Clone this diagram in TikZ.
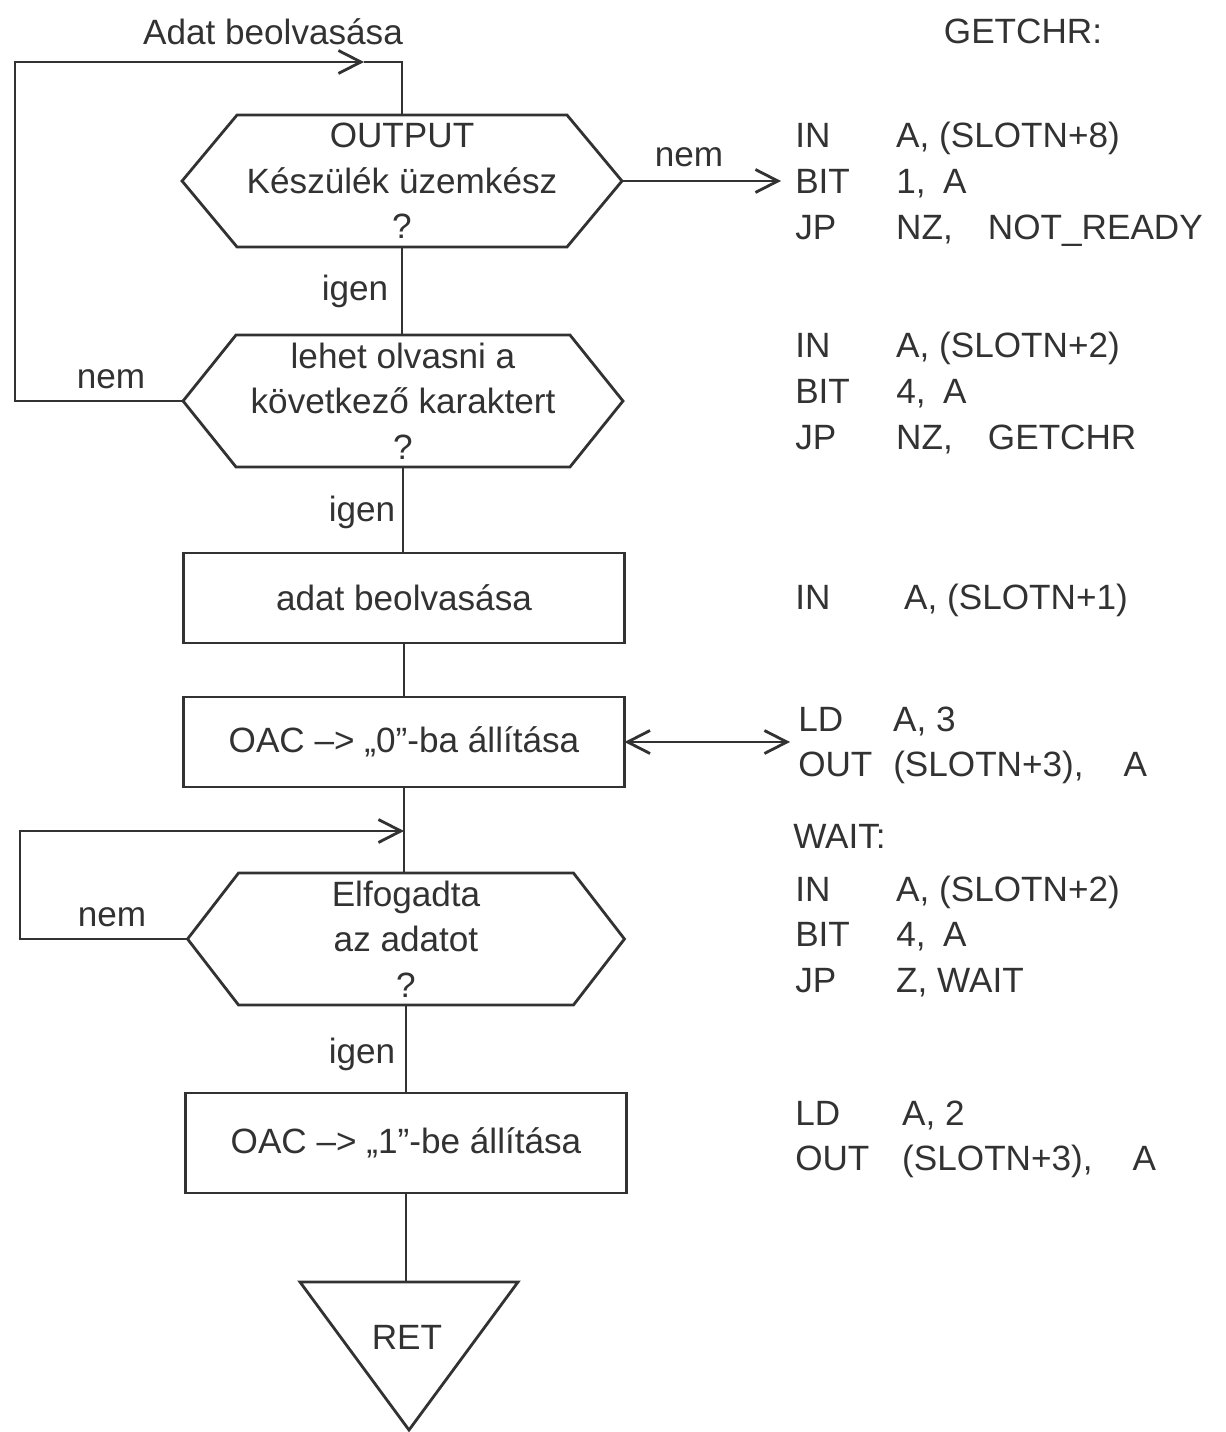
\documentclass[tikz,border=0pt]{standalone}
\usepackage{fontspec}
\setmainfont{Liberation Sans}
\usepackage{xcolor}
\usepackage{tikz}
\usetikzlibrary{arrows.meta}
\definecolor{inkGray}{RGB}{50,50,50}
\newcommand{\hexframe}[2][1.1cm]{\draw (#2.west) -- ([xshift=#1]#2.north west) -- ([xshift=-#1]#2.north east) -- (#2.east) -- ([xshift=-#1]#2.south east) -- ([xshift=#1]#2.south west) -- cycle;}

\begin{document}
\begin{tikzpicture}[x=0.02cm, y=-0.02cm, line width=1.6pt, color=inkGray,
		box/.style={draw, minimum width=8.82cm, minimum height=1.8cm, outer sep=0pt},
		hexbox/.style={minimum width=8.8cm, minimum height=2.64cm, align=center, inner sep=0pt, outer sep=0pt},
		retbox/.style={minimum width=4.36cm, minimum height=2.96cm, outer sep=0pt},
		flow/.style={-{Straight Barb[length=0.45cm, width=0.46cm]}},
		both/.style={{Straight Barb[length=0.45cm, width=0.46cm]}-{Straight Barb[length=0.45cm, width=0.46cm]}},
		code/.style={anchor=base west}]
		\tikzset{every node/.append style={font=\fontsize{20}{26}\selectfont, text=inkGray}}
		\useasboundingbox (0,0) rectangle (1225,1432);
		\node [hexbox] (q1) at (402,181) {OUTPUT\\Készülék üzemkész\\?};
		\node [hexbox] (q2) at (403,401) {lehet olvasni a\\következő karaktert\\?};
		\node [box] (r1) at (404,598) {adat beolvasása};
		\node [box] (r2) at (404,742) {OAC –> „0”-ba állítása};
		\node [hexbox, minimum width=8.74cm] (q3) at (406,939) {Elfogadta\\az adatot\\?};
		\node [box, minimum height=2cm] (r3) at (406,1143) {OAC –> „1”-be állítása};
		\node [retbox] (ret) at (409,1356) {};
		\node (retlbl) at (407,1337) {RET};
		\hexframe{q1}
		\hexframe[1.06cm]{q2}
		\hexframe[1.02cm]{q3}
		\draw (ret.north west) -- (ret.north east) -- (ret.south) -- cycle;
		\draw (q1.south) -- (q1.south |- q2.north);
		\draw (q2.south) -- (q2.south |- r1.north);
		\draw (r1.south) -- (r2.north);
		\draw (r2.south) -- (r2.south |- q3.north);
		\draw (q3.south) -- (q3.south |- r3.north);
		\draw (r3.south) -- (r3.south |- ret.north);
		\coordinate (loopA) at (15,62);
		\coordinate (loopAtip) at (364,62);
		\draw [flow] (q2.west) -| (loopA) -- (loopAtip);
		\draw (loopAtip) -- (loopA -| q1.north) -- (q1.north);
		\coordinate (loopB) at (20,831);
		\draw [flow] (q3.west) -| (loopB) -- (r2.south |- loopB);
		\coordinate (nrtip) at (781,181);
		\draw [flow] (q1.east) -- (nrtip);
		\coordinate (codetip) at (790,742);
		\draw [both] (r2.east) -- (codetip);
		\node (adat) at (273,32) {Adat beolvasása};
		\node (nem1) at (689,157) {nem};
		\node (igen1) at (355,291) {igen};
		\node (nem2) at (111,379) {nem};
		\node (igen2) at (362,512) {igen};
		\node (nem3) at (112,917) {nem};
		\node (igen3) at (362,1054) {igen};
		\node (getchr) at (1023,31) {GETCHR:};
		\node [code] (code1) at (788,148) {\begin{tabular}[t]{@{}p{2.02cm}@{}l@{}}IN & A, (SLOTN+8)\\BIT & 1,\enspace A\\JP & NZ,\quad NOT\_READY\end{tabular}};
		\node [code] (code2) at (788,358) {\begin{tabular}[t]{@{}p{2.02cm}@{}l@{}}IN & A, (SLOTN+2)\\BIT & 4,\enspace A\\JP & NZ,\quad GETCHR\end{tabular}};
		\node [code] (code3) at (788,609) {\begin{tabular}[t]{@{}p{2.18cm}@{}l@{}}IN & A, (SLOTN+1)\end{tabular}};
		\node [code] (code4) at (791,731) {\begin{tabular}[t]{@{}p{1.9cm}@{}l@{}}LD & A, 3\\OUT & (SLOTN+3),\hspace{0.8cm}A\end{tabular}};
		\node [code] (wait) at (786,848) {WAIT:};
		\node [code] (code5) at (788,901) {\begin{tabular}[t]{@{}p{2.02cm}@{}l@{}}IN & A, (SLOTN+2)\\BIT & 4,\enspace A\\JP & Z, WAIT\end{tabular}};
		\node [code] (code6) at (788,1125) {\begin{tabular}[t]{@{}p{2.14cm}@{}l@{}}LD & A, 2\\OUT & (SLOTN+3),\hspace{0.8cm}A\end{tabular}};
	\end{tikzpicture}
\end{document}
